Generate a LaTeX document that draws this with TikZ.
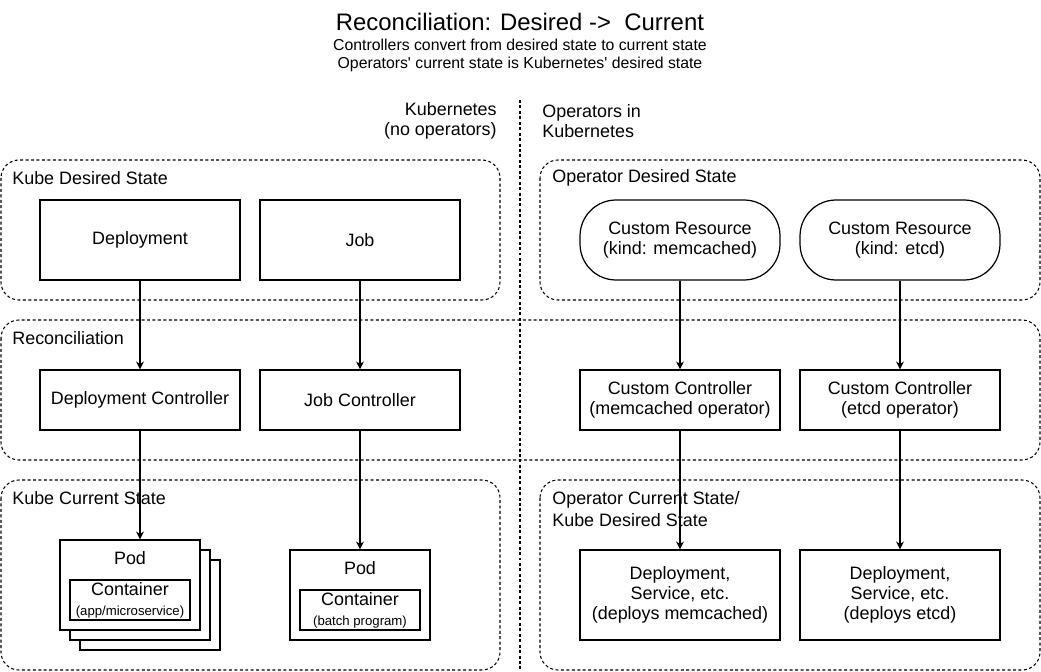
\documentclass[tikz,border=0pt]{standalone}
\usepackage{fontspec}
\setmainfont{Liberation Sans}
\usetikzlibrary{arrows.meta}

\def\bodyfont{\fontsize{10.2}{11.5}\selectfont}
\def\smallfont{\fontsize{7.5}{8.6}\selectfont}
\def\titlefont{\fontsize{13.6}{16}\selectfont}
\def\subfont{\fontsize{9}{10.2}\selectfont}

\begin{document}
\begin{tikzpicture}[x=0.02cm,y=-0.02cm,
        every node/.style={font=\bodyfont},
        groupbox/.style={draw,line width=0.6pt,dash pattern=on 1.7pt off 1.4pt,rounded corners=0.36cm},
        grouplabel/.style={anchor=west,align=left,inner sep=0pt},
        headlabel/.style={inner sep=0pt},
        objbox/.style={draw,line width=0.7pt,minimum width=4cm,minimum height=1.6cm,align=center,inner sep=0pt},
        ctlbox/.style={objbox,minimum height=1.2cm},
        crbox/.style={objbox,rounded corners=0.72cm},
        podbox/.style={draw,fill=white,line width=0.7pt,minimum width=2.8cm,minimum height=1.8cm,inner sep=0pt},
        ctrbox/.style={draw,line width=0.7pt,minimum width=2.4cm,minimum height=0.8cm,inner sep=0pt,align=center},
        arr/.style={-{Stealth[length=4.5pt,width=4.5pt]},line width=0.6pt}]
        \useasboundingbox (0,0) rectangle (1041,672);
        % title
        \node[font=\titlefont] (title) at (520,22) {Reconciliation: Desired -> \ Current};
        \node[font=\subfont,align=center] (subtitle) at (520,55)
            {Controllers convert from desired state to current state\\Operators\textquotesingle{} current state is Kubernetes\textquotesingle{} desired state};
        % column heads and divider
        \node[headlabel,anchor=east,align=right] (kubehead) at (497,121) {Kubernetes\\(no operators)};
        \node[headlabel,anchor=west,align=left] (ophead) at (542,121) {Operators in\\Kubernetes};
        \coordinate (divtop) at (520,100);
        \coordinate (divbot) at (520,672);
        \draw[line width=0.6pt,dash pattern=on 1.7pt off 1.4pt] (divtop) -- (divbot);
        % groups
        \draw[groupbox] (1,160) rectangle (500,300);
        \node[grouplabel] (kdslabel) at (12,178) {Kube Desired State};
        \draw[groupbox] (540,160) rectangle (1040,300);
        \node[grouplabel] (odslabel) at (552,178) {Operator Desired State};
        \draw[groupbox] (1,320) rectangle (1040,460);
        \node[grouplabel] (reclabel) at (12,338) {Reconciliation};
        \draw[groupbox] (1,480) rectangle (500,670);
        \node[grouplabel] (kcslabel) at (12,498) {Kube Current State};
        \draw[groupbox] (540,480) rectangle (1040,670);
        \node[grouplabel,font=\fontsize{10.2}{12.3}\selectfont] (ocslabel) at (552,509) {Operator Current State/\\Kube Desired State};
        % desired state
        \node[objbox] (deploy) at (140,240) {Deployment};
        \node[objbox] (job) at (360,240) {Job};
        \node[crbox] (crmem) at (680,240) {Custom Resource\\(kind: memcached)};
        \node[crbox] (cretcd) at (900,240) {Custom Resource\\(kind: etcd)};
        % controllers
        \node[ctlbox] (deployctl) at (140,400) {Deployment Controller};
        \node[ctlbox] (jobctl) at (360,400) {Job Controller};
        \node[ctlbox] (memctl) at (680,400) {Custom Controller\\(memcached operator)};
        \node[ctlbox] (etcdctl) at (900,400) {Custom Controller\\(etcd operator)};
        % pods (stacked replicas)
        \node[podbox] (podc) at (150,605) {};
        \node[podbox] (podb) at (140,595) {};
        \node[podbox] (poda) at (130,585) {};
        \node (podalabel) at (130,558) {Pod};
        \node[ctrbox] (ctra) at (130,600) {Container\\{\smallfont(app/microservice)}};
        \node[podbox] (podjob) at (360,595) {};
        \node (podjoblabel) at (360,568) {Pod};
        \node[ctrbox] (ctrjob) at (360,610) {Container\\{\smallfont(batch program)}};
        % operator current state
        \node[objbox,minimum height=1.8cm] (depmem) at (680,595) {Deployment,\\Service, etc.\\(deploys memcached)};
        \node[objbox,minimum height=1.8cm] (depetcd) at (900,595) {Deployment,\\Service, etc.\\(deploys etcd)};
        % arrows
        \draw[arr] (deploy) -- (deployctl);
        \draw[arr] (job) -- (jobctl);
        \draw[arr] (crmem) -- (memctl);
        \draw[arr] (cretcd) -- (etcdctl);
        \draw[arr] (deployctl) -- (deployctl |- poda.north);
        \draw[arr] (jobctl) -- (podjob);
        \draw[arr] (memctl) -- (depmem);
        \draw[arr] (etcdctl) -- (depetcd);
    \end{tikzpicture}
\end{document}
